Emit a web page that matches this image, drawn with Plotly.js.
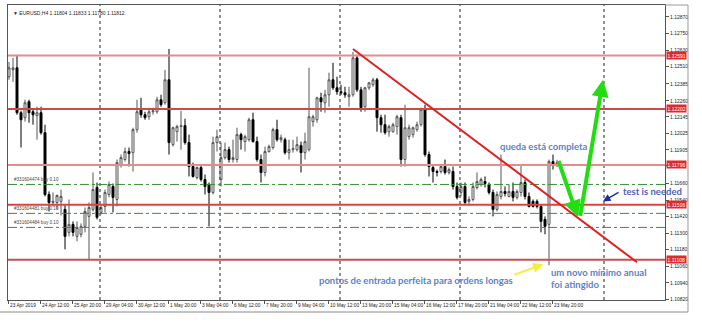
<!DOCTYPE html>
<html><head><meta charset="utf-8">
<script src="https://cdn.plot.ly/plotly-3.0.1.min.js"></script>
<style>html,body{margin:0;padding:0;background:#fff;}#chart{width:702px;height:322px;}</style>
</head><body><div id="chart"></div>
<script>
// EURUSD H4, 23 Apr 2019 04:00 .. 24 May 2019 00:00 (bar index = position)
const openP = [1.12436,1.12486,1.12501,1.12175,1.12139,1.12255,1.12182,1.12153,1.12175,1.12030,
1.11581,1.11523,1.11523,1.11531,1.11473,1.11306,1.11364,1.11277,1.11292,1.11350,
1.11422,1.11473,1.11632,1.11451,1.11494,1.11581,1.11639,1.11545,1.11798,1.11835,
1.11893,1.11885,1.12052,1.12197,1.12160,1.12146,1.12182,1.12182,1.12269,1.12247,
1.12414,1.11943,1.12037,1.12074,1.12081,1.11958,1.11784,1.11704,1.11777,1.11690,
1.11654,1.11596,1.11958,1.11690,1.11849,1.11907,1.11835,1.11835,1.12016,1.11965,
1.11979,1.12124,1.11965,1.11835,1.11741,1.11893,1.11922,1.12052,1.11979,1.11979,
1.11885,1.11907,1.11907,1.11936,1.11885,1.11907,1.12110,1.12124,1.12283,1.12247,
1.12305,1.12414,1.12356,1.12327,1.12320,1.12291,1.12305,1.12573,1.12341,1.12218,
1.12356,1.12378,1.12414,1.12139,1.12088,1.12037,1.12037,1.12074,1.12139,1.11835,
1.12001,1.12016,1.12052,1.12088,1.12197,1.11871,1.11777,1.11748,1.11748,1.11784,
1.11741,1.11748,1.11639,1.11596,1.11639,1.11531,1.11545,1.11632,1.11654,1.11675,
1.11654,1.11596,1.11473,1.11567,1.11603,1.11567,1.11603,1.11560,1.11596,1.11668,
1.11567,1.11531,1.11531,1.11494,1.11400,1.11364,1.11820,1.11804];
const highP = [1.12544,1.12573,1.12595,1.12189,1.12269,1.12269,1.12197,1.12218,1.12218,1.12088,
1.11603,1.11596,1.11581,1.11617,1.11509,1.11545,1.11386,1.11386,1.11371,1.11487,
1.11523,1.11741,1.11668,1.11509,1.11617,1.11675,1.11661,1.11835,1.11871,1.11922,
1.11922,1.12066,1.12269,1.12283,1.12182,1.12211,1.12211,1.12291,1.12305,1.12486,
1.12638,1.12074,1.12088,1.12189,1.12131,1.12016,1.11813,1.11784,1.11791,1.11726,
1.11668,1.12001,1.12052,1.11958,1.11958,1.11929,1.11979,1.12066,1.12030,1.12016,
1.12139,1.12175,1.12001,1.11871,1.11929,1.11943,1.12066,1.12124,1.12016,1.11994,
1.11979,1.11979,1.12001,1.11965,1.12030,1.12501,1.12160,1.12291,1.12320,1.12341,
1.12465,1.12537,1.12436,1.12378,1.12363,1.12363,1.12617,1.12595,1.12363,1.12363,
1.12399,1.12428,1.12428,1.12160,1.12160,1.12088,1.12102,1.12160,1.12160,1.12233,
1.12088,1.12074,1.12110,1.12211,1.12233,1.11893,1.11798,1.11762,1.11798,1.11835,
1.11777,1.11784,1.11668,1.11668,1.11668,1.11567,1.11668,1.11741,1.11704,1.11712,
1.11668,1.11617,1.11603,1.11871,1.11639,1.11654,1.11668,1.11617,1.11798,1.11690,
1.11596,1.11545,1.11545,1.11509,1.11422,1.11835,1.11871,1.11833];
const lowP = [1.12414,1.12399,1.12160,1.11922,1.12110,1.12102,1.12088,1.11979,1.12016,1.11567,
1.11458,1.11494,1.11473,1.11429,1.11183,1.11277,1.11277,1.11241,1.11270,1.11306,
1.11111,1.11458,1.11400,1.11436,1.11451,1.11560,1.11451,1.11494,1.11777,1.11820,
1.11784,1.11748,1.12030,1.12139,1.12124,1.12124,1.12160,1.12168,1.12218,1.12233,
1.11871,1.11929,1.11965,1.11907,1.11943,1.11712,1.11704,1.11690,1.11675,1.11581,
1.11350,1.11581,1.11893,1.11639,1.11835,1.11813,1.11813,1.11813,1.11907,1.11893,
1.11965,1.11958,1.11820,1.11668,1.11712,1.11885,1.11907,1.11965,1.11958,1.11871,
1.11835,1.11885,1.11893,1.11741,1.11835,1.11893,1.12074,1.12102,1.12182,1.12175,
1.12218,1.12341,1.12305,1.12305,1.12283,1.12218,1.12291,1.12327,1.12182,1.12182,
1.12341,1.12363,1.12037,1.12030,1.12016,1.12001,1.12030,1.12016,1.11784,1.11784,
1.11979,1.11994,1.12037,1.12074,1.11856,1.11712,1.11668,1.11712,1.11733,1.11726,
1.11726,1.11617,1.11545,1.11567,1.11509,1.11509,1.11531,1.11617,1.11639,1.11632,
1.11581,1.11422,1.11458,1.11545,1.11567,1.11560,1.11531,1.11545,1.11567,1.11545,
1.11487,1.11487,1.11480,1.11306,1.11292,1.11067,1.11762,1.11780];
const closeP = [1.12501,1.12501,1.12175,1.12124,1.12247,1.12175,1.12160,1.12175,1.12030,1.11581,
1.11523,1.11531,1.11574,1.11567,1.11277,1.11364,1.11306,1.11342,1.11350,1.11458,
1.11487,1.11617,1.11415,1.11487,1.11596,1.11654,1.11560,1.11813,1.11849,1.11893,
1.11878,1.12052,1.12182,1.12160,1.12139,1.12182,1.12189,1.12269,1.12233,1.12414,
1.11958,1.12066,1.12074,1.12081,1.11958,1.11784,1.11712,1.11777,1.11690,1.11639,
1.11596,1.11958,1.12001,1.11849,1.11907,1.11835,1.11849,1.12016,1.11979,1.12001,
1.12124,1.11965,1.11835,1.11741,1.11893,1.11929,1.12052,1.11979,1.11994,1.11885,
1.11907,1.11914,1.11943,1.11885,1.11965,1.12146,1.12146,1.12283,1.12255,1.12305,
1.12414,1.12356,1.12327,1.12320,1.12305,1.12305,1.12573,1.12341,1.12211,1.12356,
1.12392,1.12414,1.12139,1.12088,1.12030,1.12074,1.12088,1.12146,1.11835,1.12066,
1.12066,1.12066,1.12088,1.12197,1.11871,1.11784,1.11748,1.11741,1.11784,1.11741,
1.11762,1.11639,1.11560,1.11639,1.11523,1.11545,1.11639,1.11675,1.11690,1.11661,
1.11596,1.11473,1.11581,1.11603,1.11588,1.11603,1.11560,1.11603,1.11668,1.11567,
1.11494,1.11494,1.11494,1.11386,1.11350,1.11820,1.11798,1.11812];

const xLabels = ['23 Apr 2019','24 Apr 12:00','25 Apr 20:00','29 Apr 04:00','30 Apr 12:00','1 May 20:00',
'3 May 04:00','6 May 12:00','7 May 20:00','9 May 04:00','10 May 12:00','13 May 20:00','15 May 04:00',
'16 May 12:00','17 May 20:00','21 May 04:00','22 May 12:00','23 May 20:00'];
const xLabelBars = [0,8,16,24,32,40,48,56,64,72,80,88,96,104,112,120,128,136];
const yTicks = [1.12870,1.12750,1.12630,1.12510,1.12385,1.12260,1.12145,1.12025,1.11905,1.11790,
1.11660,1.11540,1.11420,1.11300,1.11180,1.11060,1.10940,1.10820];
// tick hidden behind the 1.11796 price box in the reference
const yTicksHidden = [1.11790];

const levelPrices = [1.12591,1.12202,1.11796,1.11506,1.11108];
const levelColors = ['#e88a8a','#cc4a4a','#e88a8a','#d94444','#c25252'];
const orderPrices = [1.11654,1.11444,1.11342];
const orderNames = ['#331604474 buy 0.10','#331604481 buy 0.10','#331604484 buy 0.10'];
const separatorBars = [22.75,52.75,82.75,112.75,148.75];
const trendBars = [86,157];
const trendPrices = [1.12638,1.11089];

// arrows: [tailBar, tailPrice, headBar, headPrice]
const greenDown = [137.25,1.11835,142.25,1.11415];
const greenUp = [142.75,1.11415,148.5,1.12414];
const blueArrow = [152.75,1.11603,148.5,1.11531];
const yellowArrow = [126,1.10995,133.5,1.11074];

const notes = [
  {text:'queda está completa', bar:122.25, price:1.11929, color:'#5b84c4'},
  {text:'test is needed', bar:153, price:1.11603, color:'#4e5fb8'},
  {text:'pontos de entrada perfeita para ordens longas', bar:77, price:1.10959, color:'#5b84c4'},
  {text:'um novo mínimo anual<br>foi atingido', bar:135, price:1.10969, color:'#5b84c4'}
];

const bars = openP.map((_, i) => i);
const last = openP.length - 1;

const trace = {
  type:'candlestick', x:bars, open:openP, high:highP, low:lowP, close:closeP,
  increasing:{line:{color:'#555555', width:1}, fillcolor:'#ffffff'},
  decreasing:{line:{color:'#000000', width:1}, fillcolor:'#000000'},
  whiskerwidth:0, hoverinfo:'none', showlegend:false
};

const shapes = [];
// outer window frame
shapes.push({type:'line', xref:'paper', yref:'paper', x0:1.035, x1:1.035, y0:1, y1:-0.0407, line:{color:'#9a9a9a', width:1}});
shapes.push({type:'line', xref:'paper', yref:'paper', x0:-0.013, x1:1.035, y0:-0.0407, y1:-0.0407, line:{color:'#8a8a8a', width:1}});
shapes.push({type:'line', xref:'paper', yref:'paper', x0:1, x1:1.035, y0:1, y1:1, line:{color:'#9a9a9a', width:1}});
separatorBars.forEach(b => shapes.push({type:'line', xref:'x', yref:'paper', x0:b, x1:b, y0:0, y1:1,
  line:{color:'#222', width:1, dash:'dot'}}));
orderPrices.forEach(p => shapes.push({type:'line', xref:'paper', yref:'y', x0:0, x1:1, y0:p, y1:p,
  line:{color:'#3c8a3c', width:1, dash:'dashdot'}}));
levelPrices.forEach((p, k) => shapes.push({type:'line', xref:'paper', yref:'y', x0:0, x1:1, y0:p, y1:p,
  line:{color:levelColors[k], width:2}}));
shapes.push({type:'line', xref:'x', yref:'y', x0:trendBars[0], x1:trendBars[1], y0:trendPrices[0], y1:trendPrices[1],
  line:{color:'#e02020', width:2}});

const annotations = [];
// header
annotations.push({xref:'paper', yref:'paper', x:0.004, y:0.99, xanchor:'left', yanchor:'top', showarrow:false,
  text:'▼ EURUSD,H4 ' + [openP[last], highP[last], lowP[last], closeP[last]].map(v => v.toFixed(5)).join(' '),
  font:{family:'Liberation Sans', size:5, color:'#222'}});
// x labels
xLabels.forEach((t, k) => annotations.push({xref:'x', yref:'paper', x:xLabelBars[k] - 0.25, y:-0.005,
  xanchor:'left', yanchor:'top', showarrow:false, text:t, font:{family:'Liberation Sans', size:4.8, color:'#222'}}));
// order labels
orderNames.forEach((t, k) => annotations.push({xref:'paper', yref:'y', x:0.006, y:orderPrices[k], xanchor:'left',
  yanchor:'bottom', showarrow:false, text:t, font:{family:'Liberation Sans', size:4.6, color:'#444'}}));
// red price boxes
levelPrices.forEach(p => annotations.push({xref:'paper', yref:'y', x:1.001, y:p, xanchor:'left', yanchor:'middle',
  showarrow:false, text:p.toFixed(5), bgcolor:'#e02a2a', borderpad:0.5,
  font:{family:'Liberation Sans', size:5, color:'#ffffff'}}));
// arrows
function arrow(a, color, width, size) {
  return {xref:'x', yref:'y', axref:'x', ayref:'y', ax:a[0], ay:a[1], x:a[2], y:a[3], text:'',
    showarrow:true, arrowhead:2, arrowsize:size, arrowwidth:width, arrowcolor:color};
}
annotations.push(arrow(greenDown, '#22dd11', 4, 0.85));
annotations.push(arrow(greenUp, '#22dd11', 4, 0.85));
annotations.push(arrow(blueArrow, '#1c2fa0', 1.5, 1));
annotations.push(arrow(yellowArrow, '#f2ee3a', 2, 1));
notes.forEach(n => annotations.push({xref:'x', yref:'y', x:n.bar, y:n.price, xanchor:'left', yanchor:'middle',
  align:'left', showarrow:false, text:n.text, font:{family:'Lato', size:9.5, color:n.color, weight:'bold'}}));

const layout = {
  width:702, height:322, paper_bgcolor:'#ffffff', plot_bgcolor:'#ffffff',
  margin:{l:8, r:37, t:5, b:22}, showlegend:false, dragmode:false,
  xaxis:{range:[-0.25,164], rangeslider:{visible:false}, showgrid:false, zeroline:false,
    showline:true, mirror:true, linecolor:'#555', linewidth:1,
    tickvals:xLabelBars.map(b => b - 0.25), ticks:'outside', ticklen:3, tickcolor:'#555', showticklabels:false},
  yaxis:{range:[1.10815,1.12957], side:'right', showgrid:false, zeroline:false,
    showline:true, mirror:true, linecolor:'#555', linewidth:1,
    tickvals:yTicks, ticktext:yTicks.map(v => yTicksHidden.includes(v) ? '' : v.toFixed(5)),
    ticks:'outside', ticklen:3, tickcolor:'#555',
    tickfont:{family:'Liberation Sans', size:5, color:'#222'}},
  shapes:shapes, annotations:annotations
};
Plotly.newPlot('chart', [trace], layout, {staticPlot:true, displayModeBar:false});
</script></body></html>
